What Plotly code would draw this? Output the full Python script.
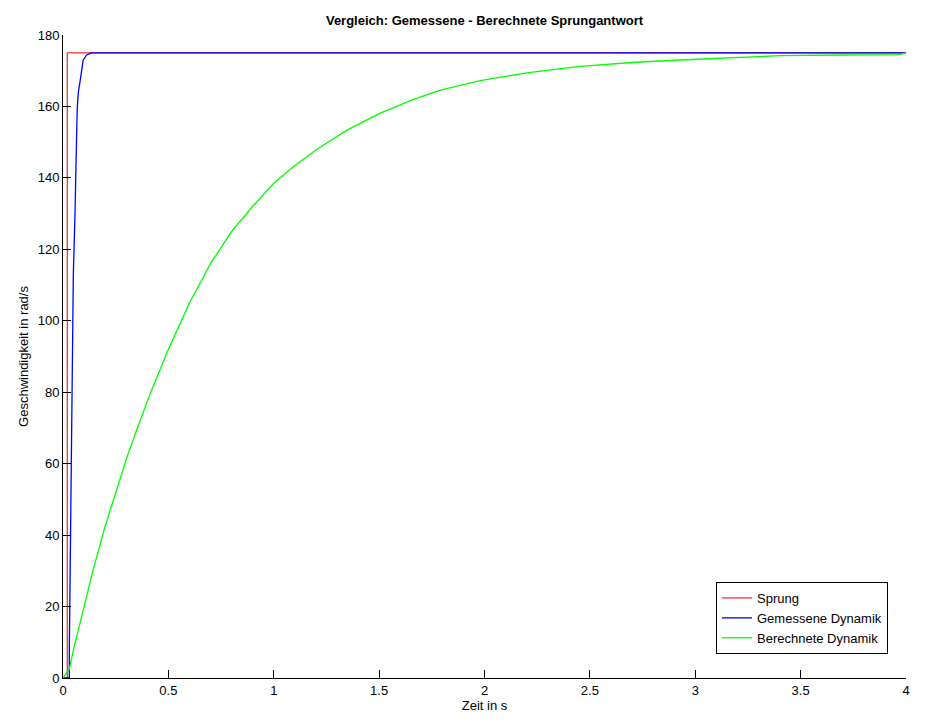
import plotly.graph_objects as go

# Sprung (step input)
sprung_t = [0, 0.02, 0.02, 4.0]
sprung_v = [0, 0, 175, 175]

# Gemessene Dynamik (measured)
gem_t = [0, 0.030, 0.030, 0.035, 0.039, 0.044, 0.049, 0.057, 0.060, 0.065,
         0.068, 0.073, 0.081, 0.089, 0.096, 0.112, 0.136, 4.0]
gem_v = [0, 0, 8, 34, 62, 90, 113, 130, 144, 153,
         160, 164, 167, 171, 173, 174.4, 175, 175]

# Berechnete Dynamik (calculated)
ber_t = [0, 0.03, 0.05, 0.1, 0.144, 0.2, 0.25, 0.302, 0.35, 0.413, 0.5, 0.6,
         0.7, 0.8, 0.9, 1.0, 1.1, 1.2, 1.346, 1.5, 1.662, 1.8, 1.979, 2.2,
         2.453, 2.7, 2.928, 3.2, 3.4, 3.7, 3.97, 4.0]
ber_v = [0, 2.5, 8, 20, 30.5, 42.5, 52, 61.5, 69.5, 79.5, 92, 105,
         116, 125, 132, 138.5, 143.5, 147.8, 153.3, 158, 162, 164.7, 167.2, 169.4,
         171.2, 172.3, 173, 173.8, 174.2, 174.4, 174.5, 175]

x_ticks = [0, 0.5, 1, 1.5, 2, 2.5, 3, 3.5, 4]
x_tick_labels = ["0", "0.5", "1", "1.5", "2", "2.5", "3", "3.5", "4"]
y_ticks = [0, 20, 40, 60, 80, 100, 120, 140, 160, 180]

FONT = "Liberation Sans, Arial, sans-serif"

# the page body adds an 8px offset; figure is sized to compensate
W, H = 939, 720
L, R, T, B = 55, 41, 27, 50

fig = go.Figure()
fig.add_trace(go.Scatter(x=sprung_t, y=sprung_v, mode="lines", name="Sprung",
                         line=dict(color="#e00000", width=1)))
fig.add_trace(go.Scatter(x=gem_t, y=gem_v, mode="lines", name="Gemessene Dynamik",
                         line=dict(color="#0000ff", width=1.3)))
fig.add_trace(go.Scatter(x=ber_t, y=ber_v, mode="lines", name="Berechnete Dynamik",
                         line=dict(color="#00ff00", width=1.3)))

pw = W - L - R
ph = H - T - B
fig.update_layout(
    width=W, height=H,
    margin=dict(l=L, r=R, t=T, b=B, autoexpand=False),
    paper_bgcolor="white", plot_bgcolor="white",
    font=dict(family=FONT, size=13, color="black"),
    title=dict(text="<b>Vergleich: Gemessene - Berechnete Sprungantwort</b>",
               x=0.5, xref="paper", xanchor="center",
               y=1 - 12 / H, yanchor="middle",
               font=dict(family=FONT, size=13, color="black")),
    showlegend=True,
    legend=dict(x=(716 - 63) / pw, y=(678 - 582) / ph, xanchor="left", yanchor="top",
                bgcolor="white", bordercolor="black", borderwidth=1,
                font=dict(family=FONT, size=13, color="black"),
                tracegroupgap=0),
)
fig.update_xaxes(range=[0, 4], tickvals=x_ticks, ticktext=x_tick_labels,
                 showgrid=False, zeroline=False, showline=True, linecolor="black",
                 linewidth=1, ticks="inside", ticklen=8, tickcolor="black",
                 automargin=False,
                 title=dict(text="Zeit in s", standoff=4,
                            font=dict(family=FONT, size=13)))
fig.update_yaxes(range=[0, 180], tickvals=y_ticks,
                 showgrid=False, zeroline=False, showline=True, linecolor="black",
                 linewidth=1, ticks="inside", ticklen=8, tickcolor="black",
                 automargin=False,
                 title=dict(text="Geschwindigkeit in rad/s", standoff=6,
                            font=dict(family=FONT, size=13)))

fig.write_html("out.html")
